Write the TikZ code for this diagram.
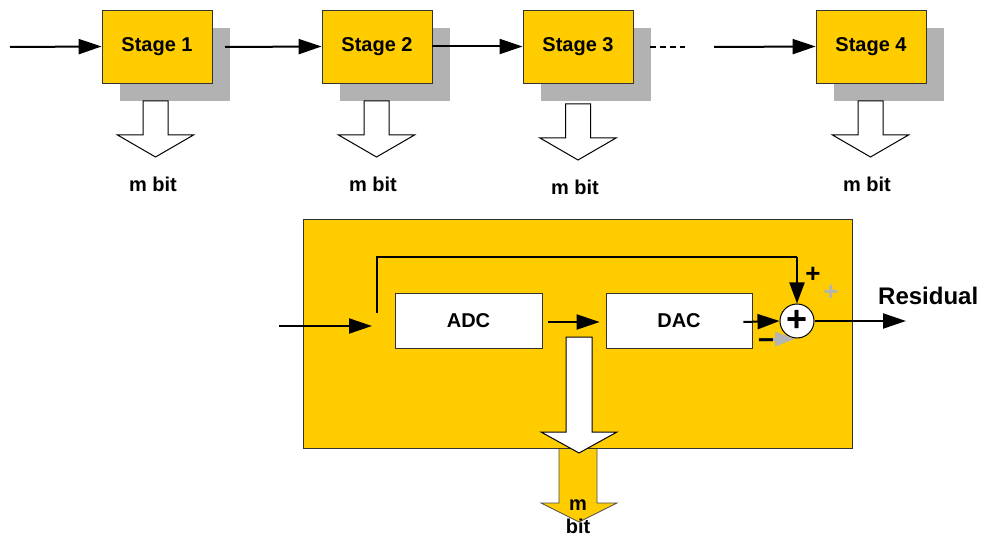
\documentclass[tikz,border=0pt]{standalone}
\usepackage{fontspec}
\setmainfont{Liberation Sans}
\usetikzlibrary{arrows.meta,shadows,calc}
\definecolor{ylw}{HTML}{FFCC00}
\definecolor{shd}{HTML}{B2B2B2}
\definecolor{gry}{HTML}{B4B4B4}
\definecolor{edge}{HTML}{333333}
\begin{document}
\begin{tikzpicture}[x=1pt,y=-1pt,
  stagebox/.style={draw=edge, line width=0.8pt, fill=ylw, minimum width=110pt, minimum height=73pt, inner sep=0pt,
     font=\fontsize{20}{24}\selectfont\bfseries,
     drop shadow={opacity=1, fill=shd, shadow xshift=18pt, shadow yshift=-18pt}},
  convbox/.style={draw=edge, line width=0.8pt, fill=white, minimum width=147pt, minimum height=55pt, inner sep=0pt,
     font=\fontsize{20}{24}\selectfont\bfseries},
  lbl/.style={font=\fontsize{20}{24}\selectfont\bfseries, inner sep=0pt},
  wire/.style={line width=2pt, -{Triangle[length=23pt,width=15pt]}},
  hollow/.style={draw=black, line width=1pt, fill=white, line join=miter},
  pics/bitarrow/.style={code={
    \draw[hollow] (-12.5,0) -- (-12.5,34) -- (-38,34) -- (0,56) -- (38,34) -- (12.5,34) -- (12.5,0) -- cycle;}},
]
\useasboundingbox (0,0) rectangle (982,537);

% top row
\node[stagebox] (s1) at (157,46.5) {Stage 1};
\node[stagebox] (s2) at (377,46.5) {Stage 2};
\node[stagebox] (s3) at (578,46.5) {Stage 3};
\node[stagebox] (s4) at (871,46.5) {Stage 4};

\coordinate (in0) at (10,47);
\coordinate (o1) at (225,47);
\coordinate (d1) at (650,47);
\coordinate (d2) at (685,47);
\coordinate (in4) at (714,47);

\draw[wire] (in0) -- (s1.west);
\draw[wire] (o1) -- (s2.west);
\draw[wire] (s2.east) -- (s3.west);
\draw[line width=2pt, dash pattern=on 6pt off 4pt] (d1) -- (d2);
\draw[wire] (in4) -- (s4.west);

\pic at (155.5,101) {bitarrow};
\pic at (376.5,101) {bitarrow};
\pic at (578,104) {bitarrow};
\pic at (870.5,101) {bitarrow};

\node[lbl, anchor=base] (b1) at (153,192) {m bit};
\node[lbl, anchor=base] (b2) at (373,192) {m bit};
\node[lbl, anchor=base] (b3) at (575,195) {m bit};
\node[lbl, anchor=base] (b4) at (867,192) {m bit};

% bottom detail
\fill[ylw] (559,440) -- (559,503) -- (541,503) -- (579,522) -- (617,503) -- (597,503) -- (597,440) -- cycle;
\draw[black!70, line width=0.8pt, line join=miter] (559,448) -- (559,503) -- (541,503) -- (579,522) -- (617,503) -- (597,503) -- (597,448);

\node[draw=edge, line width=0.8pt, fill=ylw, minimum width=549pt, minimum height=229pt, inner sep=0pt] (big) at (577.5,333.5) {};

\node[convbox] (adc) at (468.5,320.5) {ADC};
\node[convbox, minimum width=146pt] (dac) at (679,320.5) {DAC};
\node[draw=black, line width=1pt, fill=white, circle, minimum size=34pt, inner sep=0pt,
      font=\fontsize{36}{36}\selectfont\bfseries] (sum) at (797,321) {+};

\coordinate (in1) at (279,326);
\coordinate (in1e) at (372,326);
\coordinate (tap) at (377,313);
\coordinate (fb) at (797,257);
\coordinate (out) at (906,321);
\coordinate (gs) at (762,339);
\coordinate (ge) at (795,339);

\draw[wire] (in1) -- (in1e);
\draw[line width=2pt, line join=miter] (tap) |- (fb);
\draw[line width=2pt, -{Triangle[length=21pt,width=15pt]}] (fb) -- (sum.north);
\draw[wire] ([xshift=6pt]adc.east |- 0,322) -- ([xshift=-6pt]dac.west |- 0,322);
\draw[line width=2pt, -{Triangle[length=22pt,width=15pt]}] ([xshift=-9pt]dac.east |- 0,322) -- (sum.west);
\draw[wire] (sum.east) -- (out);
\draw[gry, line width=3pt, -{Triangle[length=20pt,width=14pt]}] (gs) -- (ge);

\node[font=\fontsize{26}{26}\selectfont\bfseries, inner sep=0pt] (pl1) at (813,275) {+};
\node[font=\fontsize{26}{26}\selectfont\bfseries, text=gry, inner sep=0pt] (pl2) at (831,293) {+};
\node[font=\fontsize{28}{28}\selectfont\bfseries, inner sep=0pt] (mn) at (766,344) {−};

\node[font=\fontsize{24}{26}\selectfont\bfseries, inner sep=0pt, anchor=base west] (res) at (878,305) {Residual};

\draw[hollow] (566,337) -- (566,432) -- (541,432) -- (579,453) -- (617,432) -- (592,432) -- (592,337) -- cycle;

\node[lbl, anchor=base] (bm) at (578,510) {m};
\node[lbl, anchor=base] (bb) at (578,533) {bit};
\end{tikzpicture}
\end{document}
